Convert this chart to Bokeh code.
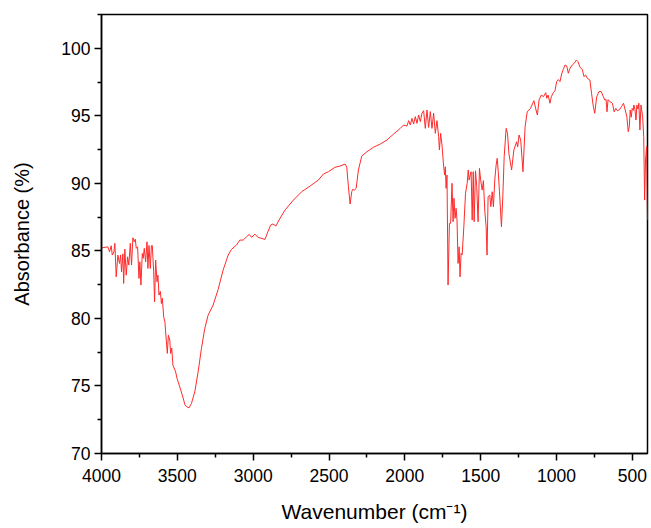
from bokeh.plotting import figure
from bokeh.models import Range1d, FixedTicker, ColumnDataSource
from bokeh.embed import file_html
from bokeh.resources import INLINE

# ---- data ----
wavenumber = [
    3995, 3958, 3947, 3936, 3929, 3918, 3912, 3903, 3892, 3881, 3874, 3868, 3859, 3854, 3846,
    3837, 3828, 3820, 3810, 3802, 3793, 3784, 3777, 3771, 3762, 3753, 3747, 3740, 3731, 3725,
    3718, 3709, 3700, 3694, 3687, 3678, 3671, 3665, 3656, 3650, 3643, 3634, 3628, 3621, 3612,
    3605, 3599, 3590, 3582, 3577, 3566, 3559, 3550, 3544, 3537, 3529, 3511, 3502, 3484, 3467,
    3449, 3436, 3423, 3407, 3385, 3363, 3341, 3319, 3297, 3264, 3231, 3198, 3165, 3143, 3110,
    3088, 3066, 3044, 3026, 3010, 2989, 2967, 2922, 2907, 2885, 2870, 2850, 2823, 2790, 2735,
    2680, 2625, 2570, 2537, 2504, 2460, 2427, 2394, 2383, 2372, 2361, 2350, 2344, 2333, 2321,
    2306, 2284, 2250, 2207, 2162, 2118, 2074, 2030, 2008, 1986, 1975, 1964, 1953, 1942, 1931,
    1920, 1909, 1898, 1887, 1876, 1865, 1854, 1843, 1832, 1821, 1810, 1799, 1788, 1777, 1772,
    1764, 1755, 1744, 1737, 1733, 1728, 1722, 1715, 1706, 1698, 1689, 1682, 1676, 1669, 1662,
    1656, 1649, 1642, 1636, 1629, 1622, 1611, 1600, 1589, 1582, 1576, 1569, 1563, 1556, 1549,
    1543, 1534, 1526, 1517, 1508, 1500, 1490, 1482, 1473, 1464, 1458, 1451, 1440, 1433, 1424,
    1416, 1407, 1398, 1391, 1384, 1376, 1363, 1354, 1345, 1332, 1323, 1314, 1296, 1281, 1270,
    1263, 1256, 1247, 1236, 1221, 1207, 1193, 1171, 1149, 1135, 1126, 1115, 1100, 1086, 1071,
    1064, 1055, 1043, 1034, 1021, 1010, 999, 988, 977, 966, 955, 944, 933, 922, 911,
    896, 880, 869, 858, 845, 830, 819, 808, 797, 780, 769, 757, 748, 735, 720,
    705, 691, 682, 673, 667, 660, 647, 631, 620, 609, 598, 585, 571, 558, 547,
    536, 527, 520, 514, 507, 501, 494, 490, 483, 476, 470, 463, 457, 450, 443,
    432, 425, 419, 413, 406, 400,
]
absorbance = [
    85.23, 85.30, 84.93, 85.38, 84.69, 84.93, 85.56, 83.08, 84.69, 84.07, 84.70, 83.45, 84.78, 82.59, 85.13,
    83.20, 84.56, 83.95, 85.56, 83.95, 85.97, 85.67, 85.87, 85.19, 85.30, 82.96, 84.19, 82.47, 84.81, 84.45,
    85.19, 84.19, 85.67, 83.70, 85.40, 83.70, 85.38, 85.40, 83.45, 81.23, 84.32, 82.71, 83.20, 81.73, 82.00,
    81.10, 81.50, 80.12, 79.75, 79.00, 77.41, 78.76, 78.40, 77.40, 77.80, 76.54, 76.04, 75.56, 74.93, 74.32,
    73.58, 73.45, 73.38, 73.70, 74.56, 76.04, 77.78, 79.26, 80.24, 80.99, 82.15, 83.58, 84.69, 85.11, 85.43,
    85.80, 85.80, 86.04, 86.22, 86.00, 86.24, 86.00, 85.85, 86.30, 86.91, 86.99, 86.84, 87.41, 88.02, 88.76,
    89.38, 89.80, 90.24, 90.69, 90.86, 91.19, 91.28, 91.43, 91.20, 89.75, 88.47, 89.38, 89.55, 89.50, 89.63,
    90.99, 92.02, 92.34, 92.67, 92.91, 93.21, 93.65, 94.07, 94.32, 94.24, 94.64, 94.32, 94.81, 94.39, 94.94,
    94.44, 95.06, 94.57, 95.19, 95.38, 94.07, 95.43, 94.14, 95.31, 94.07, 95.19, 93.70, 94.64, 93.45, 92.47,
    93.70, 92.84, 91.23, 90.61, 91.23, 89.63, 90.61, 82.47, 87.04, 87.04, 90.00, 87.16, 88.89, 87.41, 88.15,
    87.28, 84.07, 85.30, 83.08, 84.81, 84.70, 86.79, 89.26, 90.00, 90.99, 90.24, 90.60, 90.86, 87.28, 90.86,
    87.16, 90.93, 89.75, 87.16, 91.11, 90.24, 89.50, 90.20, 88.02, 86.79, 84.69, 89.01, 89.13, 88.27, 89.38,
    88.27, 90.24, 91.36, 91.85, 90.86, 89.38, 86.79, 89.01, 91.97, 94.07, 93.70, 92.22, 90.99, 92.47, 92.84,
    93.08, 92.70, 93.58, 93.20, 90.86, 94.19, 95.30, 95.56, 96.12, 95.43, 95.06, 96.17, 96.54, 96.42, 96.71,
    96.30, 96.54, 95.93, 96.42, 96.71, 96.86, 97.53, 97.68, 97.53, 98.10, 98.44, 98.76, 98.70, 98.15, 98.52,
    98.76, 98.93, 99.13, 99.00, 98.59, 98.44, 97.90, 98.02, 97.78, 97.65, 96.67, 95.68, 95.19, 96.41, 96.79,
    96.79, 96.41, 96.17, 96.20, 95.30, 96.20, 96.04, 95.93, 95.30, 95.55, 95.37, 95.45, 95.68, 95.93, 95.43,
    94.93, 93.82, 94.19, 95.43, 94.90, 95.55, 95.40, 95.80, 95.50, 94.69, 95.80, 95.50, 95.93, 93.95, 95.80,
    94.93, 93.45, 88.76, 91.73, 92.72, 87.28,
]

x_major_ticks = [500, 1000, 1500, 2000, 2500, 3000, 3500, 4000]
x_minor_ticks = [750, 1250, 1750, 2250, 2750, 3250, 3750]
y_major_ticks = [70, 75, 80, 85, 90, 95, 100]
y_minor_ticks = [72.5, 77.5, 82.5, 87.5, 92.5, 97.5, 102.5]

source = ColumnDataSource(data=dict(x=wavenumber, y=absorbance))

p = figure(
    width=651, height=528,
    output_backend="svg", toolbar_location=None,
    x_range=Range1d(4000, 400), y_range=Range1d(70, 102.5),
    min_border_left=101, min_border_top=14, min_border_right=4, min_border_bottom=75,
)
p.line("x", "y", source=source, line_color="#ff2a2a", line_width=1)

p.grid.visible = False
p.outline_line_color = "black"
p.outline_line_width = 1.5
p.background_fill_color = "white"
p.border_fill_color = "white"

p.xaxis.ticker = FixedTicker(ticks=x_major_ticks, minor_ticks=x_minor_ticks)
p.yaxis.ticker = FixedTicker(ticks=y_major_ticks, minor_ticks=y_minor_ticks)

p.xaxis.axis_label = "Wavenumber (cm\u207b\u00b9)"
p.yaxis.axis_label = "Absorbance (%)"

for ax in (p.xaxis[0], p.yaxis[0]):
    ax.axis_line_color = "black"
    ax.axis_line_width = 1.5
    ax.major_tick_line_color = "black"
    ax.minor_tick_line_color = "black"
    ax.major_tick_line_width = 1.5
    ax.minor_tick_line_width = 1.5
    ax.major_tick_in = 0
    ax.major_tick_out = 7
    ax.minor_tick_in = 0
    ax.minor_tick_out = 4
    ax.major_label_text_font = "Liberation Sans"
    ax.major_label_text_font_size = "17.5px"
    ax.major_label_text_color = "black"
    ax.axis_label_text_font = "Liberation Sans"
    ax.axis_label_text_font_style = "normal"
    ax.axis_label_text_color = "black"

p.xaxis.axis_label_text_font_size = "21px"
p.yaxis.axis_label_text_font_size = "20px"
p.xaxis.major_label_standoff = 8
p.xaxis.axis_label_standoff = 15
p.yaxis.major_label_standoff = 4
p.yaxis.axis_label_standoff = 25

open("out.html", "w").write(file_html(p, INLINE))
